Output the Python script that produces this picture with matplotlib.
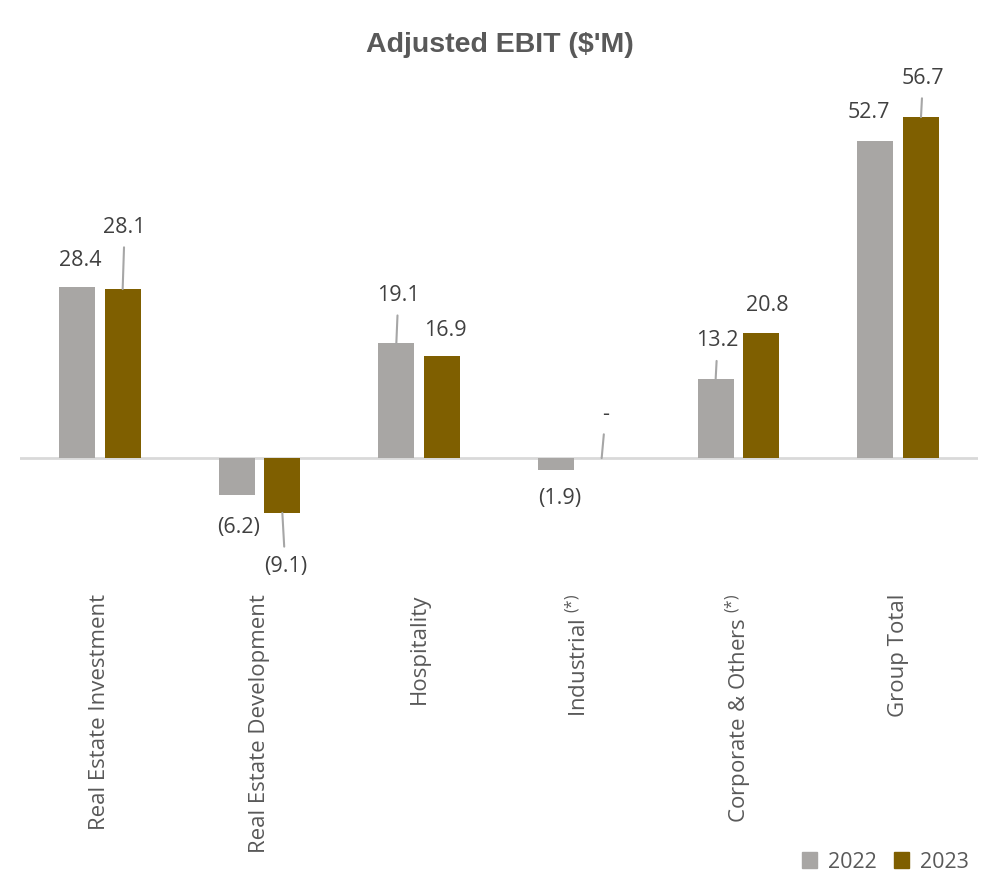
import matplotlib
matplotlib.use("Agg")
import matplotlib.pyplot as plt
from matplotlib.patches import Patch
import numpy as np

# data
categories = ["Real Estate Investment", "Real Estate Development", "Hospitality",
              "Industrial $^{(*)}$", "Corporate & Others $^{(*)}$", "Group Total"]
ebit_2022 = [28.4, -6.2, 19.1, -1.9, 13.2, 52.7]
ebit_2023 = [28.1, -9.1, 16.9, 0.0, 20.8, 56.7]
labels_2022 = ["28.4", "(6.2)", "19.1", "(1.9)", "13.2", "52.7"]
labels_2023 = ["28.1", "(9.1)", "16.9", "-", "20.8", "56.7"]

# label placement (pixel offsets from bar end) and whether a leader line is drawn
offs_2022 = [(3, 27), (2, -32), (2, 48), (4, -29), (2, 38), (-6, 29)]
offs_2023 = [(2, 62), (3, -54), (3, 26), (4, 44), (6, 28), (2, 39)]
lead_2022 = [False, False, True, False, True, False]
lead_2023 = [True, True, False, True, False, True]

c2022 = "#A8A6A4"
c2023 = "#7F5F00"
txt = "#404040"

plt.rcParams['font.family'] = ['Open Sans', 'DejaVu Sans']
plt.rcParams['mathtext.fontset'] = 'custom'
plt.rcParams['mathtext.rm'] = 'Open Sans'
plt.rcParams['mathtext.it'] = 'Open Sans'
plt.rcParams['mathtext.default'] = 'regular'

fig = plt.figure(figsize=(9.87, 8.8), dpi=100)
ax = fig.add_axes([20 / 987, (880 - 578.4) / 880, 958 / 987, 493.2 / 880])

x = np.arange(len(categories))
w = 0.225
d = 0.143
b1 = ax.bar(x - d, ebit_2022, w, color=c2022, zorder=2)
b2 = ax.bar(x + d, ebit_2023, w, color=c2023, zorder=2)

ax.axhline(0, color="#D9D9D9", lw=2, zorder=1)
ax.set_xlim(-0.5, len(categories) - 0.5)
ax.set_ylim(-20, 62)
ax.set_yticks([])
ax.set_xticks(x)
ax.set_xticklabels(categories, rotation=90, fontsize=16, color="#595959")
ax.tick_params(axis='x', length=0, pad=11)
for s in ax.spines.values():
    s.set_visible(False)


def add_labels(bars, vals, labs, offs, leads):
    for b, v, lab, off, lead in zip(bars, vals, labs, offs, leads):
        xc = b.get_x() + b.get_width() / 2
        props = None
        if lead:
            props = dict(arrowstyle='-', color="#A6A6A6", lw=1.5,
                         shrinkA=5, shrinkB=0)
        ax.annotate(lab, xy=(xc, v), xytext=off, textcoords='offset pixels',
                    ha='center', va='center', fontsize=15.5, color=txt,
                    arrowprops=props, zorder=3)


add_labels(b1, ebit_2022, labels_2022, offs_2022, lead_2022)
add_labels(b2, ebit_2023, labels_2023, offs_2023, lead_2023)

fig.text(0.506, 1 - 45 / 880, "Adjusted EBIT ($'M)", ha='center', va='center',
         fontsize=20.5, fontweight='bold', color="#595959", family='Liberation Sans')

handles = [Patch(color=c2022), Patch(color=c2023)]
fig.legend(handles, ["2022", "2023"], loc='center right',
           bbox_to_anchor=(988 / 987, 1 - 862 / 880), ncol=2, frameon=False,
           fontsize=15.5, labelcolor="#595959", handlelength=0.7, handleheight=0.7,
           handletextpad=0.5, columnspacing=0.8)

fig.savefig("out.png", dpi=100)
